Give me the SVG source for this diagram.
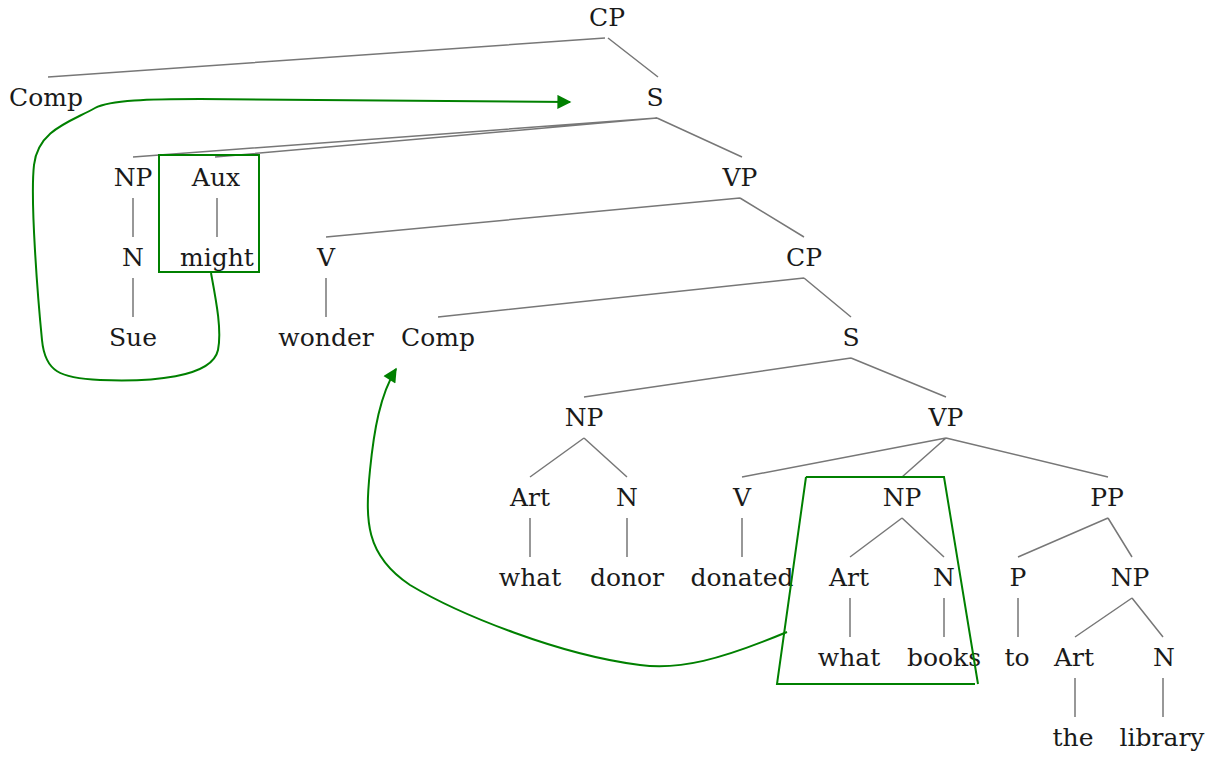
<svg xmlns="http://www.w3.org/2000/svg" width="1221" height="759" viewBox="0 0 1221 759">
<style>
text{font-family:"DejaVu Serif",serif;font-size:25px;fill:#1a1a1a;text-anchor:middle}
.e{stroke:#777;stroke-width:1.5;fill:none}
.g{stroke:#008000;stroke-width:2;fill:none}
</style>
<defs>
<marker id="ah" markerWidth="16" markerHeight="14" refX="9" refY="5" orient="auto" markerUnits="userSpaceOnUse" viewBox="0 0 10 10">
<path d="M0,0 L10,5 L0,10 z" fill="#008000"/>
</marker>
</defs>
<rect width="1221" height="759" fill="#fff"/>
<g id="edges">
<path class="e" d="M605,38 L48,77 M608,38 L658,77"/>
<path class="e" d="M657,118 L133,157 M657,118 L215,157 M657,118 L742,157"/>
<path class="e" d="M133,198 L133,237 M217,198 L217,237"/>
<path class="e" d="M740,198 L326,237 M740,198 L804,237"/>
<path class="e" d="M133,278 L133,317 M326,278 L326,317"/>
<path class="e" d="M804,278 L438,317 M804,278 L851,317"/>
<path class="e" d="M851,358 L584,397 M851,358 L946,397"/>
<path class="e" d="M584,438 L530,477 M584,438 L627,477"/>
<path class="e" d="M946,438 L742,477 M946,438 L902,477 M946,438 L1108,477"/>
<path class="e" d="M530,518 L530,557 M627,518 L627,557 M742,518 L742,557"/>
<path class="e" d="M902,518 L850,557 M902,518 L944,557"/>
<path class="e" d="M1108,518 L1018,557 M1108,518 L1132,557"/>
<path class="e" d="M850,598 L850,637 M944,598 L944,637 M1018,598 L1018,637"/>
<path class="e" d="M1132,598 L1075,637 M1132,598 L1163,637"/>
<path class="e" d="M1075,678 L1075,717 M1163,678 L1163,717"/>
</g>
<g id="nodes">
<g id="n-cp1"><text x="607" y="26">CP</text></g>
<g id="n-comp1"><text x="46" y="106">Comp</text></g>
<g id="n-s1"><text x="655" y="106">S</text></g>
<g id="n-np1"><text x="133" y="186">NP</text></g>
<g id="n-aux"><text x="216" y="186">Aux</text></g>
<g id="n-vp1"><text x="740" y="186">VP</text></g>
<g id="n-n1"><text x="133" y="266">N</text></g>
<g id="n-might"><text x="217" y="266">might</text></g>
<g id="n-v1"><text x="326" y="266">V</text></g>
<g id="n-cp2"><text x="804" y="266">CP</text></g>
<g id="n-sue"><text x="133" y="346">Sue</text></g>
<g id="n-wonder"><text x="326" y="346">wonder</text></g>
<g id="n-comp2"><text x="438" y="346">Comp</text></g>
<g id="n-s2"><text x="851" y="346">S</text></g>
<g id="n-np2"><text x="584" y="426">NP</text></g>
<g id="n-vp2"><text x="946" y="426">VP</text></g>
<g id="n-art1"><text x="530" y="506">Art</text></g>
<g id="n-n2"><text x="627" y="506">N</text></g>
<g id="n-v2"><text x="742" y="506">V</text></g>
<g id="n-np3"><text x="902" y="506">NP</text></g>
<g id="n-pp"><text x="1107" y="506">PP</text></g>
<g id="n-what1"><text x="530" y="586">what</text></g>
<g id="n-donor"><text x="627" y="586">donor</text></g>
<g id="n-donated"><text x="742" y="586">donated</text></g>
<g id="n-art2"><text x="849" y="586">Art</text></g>
<g id="n-n3"><text x="944" y="586">N</text></g>
<g id="n-p"><text x="1018" y="586">P</text></g>
<g id="n-np4"><text x="1130" y="586">NP</text></g>
<g id="n-what2"><text x="849" y="666">what</text></g>
<g id="n-books"><text x="944" y="666">books</text></g>
<g id="n-to"><text x="1017" y="666">to</text></g>
<g id="n-art3"><text x="1074" y="666">Art</text></g>
<g id="n-n4"><text x="1164" y="666">N</text></g>
<g id="n-the"><text x="1073" y="746">the</text></g>
<g id="n-library"><text x="1162" y="746">library</text></g>
</g>
<g id="highlights">
<rect class="g" x="159" y="155" width="100" height="117"/>
<path class="g" d="M806,477 L944,477 L978,684 M806,477 L777,684 L975,684"/>
</g>
<g id="movement">
<path class="g" marker-end="url(#ah)" d="M211,273 C216,300 222,330 218,350 C212,378 150,382 100,380 C60,378 45,372 42,340 C38,300 30,200 34,165 C38,130 70,122 95,108 C110,100 150,99 200,99 L570,102"/>
<path class="g" marker-end="url(#ah)" d="M787,632 C720,660 680,670 640,665 C560,655 460,615 410,585 C365,555 365,520 370,470 C374,430 380,395 396,369"/>
</g>
</svg>
